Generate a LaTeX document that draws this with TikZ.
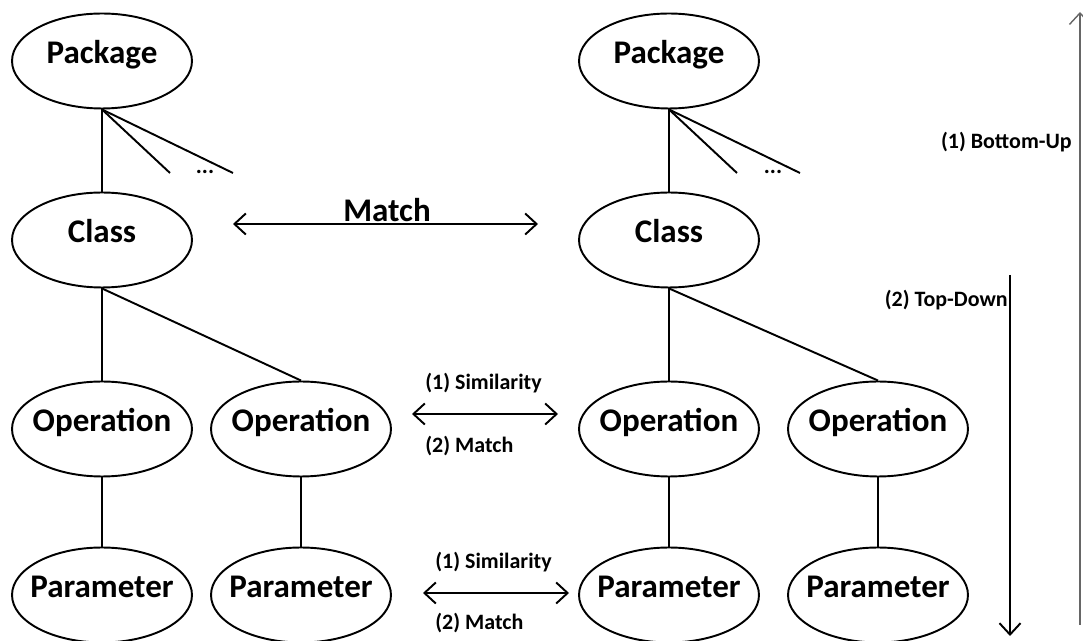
\documentclass[tikz,border=0pt]{standalone}
\usepackage{fontspec}
\setmainfont{Carlito}
\usetikzlibrary{shapes.geometric,arrows.meta}
\newcommand{\elemtext}[1]{\smash{\makebox[0pt]{\raisebox{-0.05cm}{#1}}}}
\begin{document}
\begin{tikzpicture}[x=0.02cm,y=-0.02cm,
  elem/.style={draw, ellipse, line width=1.1pt, minimum width=3.6cm, minimum height=1.9cm,
               inner sep=0pt, font=\fontsize{18.8}{22}\selectfont\bfseries},
  link/.style={line width=1.1pt},
  lbl/.style={inner sep=0pt, font=\fontsize{12.5}{14}\selectfont\bfseries},
  bigl/.style={inner sep=0pt, font=\fontsize{18.8}{22}\selectfont\bfseries},
  dots/.style={inner sep=0pt, font=\fontsize{13}{14}\selectfont\bfseries},
  biarrow/.style={line width=1.1pt, {Straight Barb[length=6.5pt,width=12pt]}-{Straight Barb[length=6.5pt,width=12pt]}},
  onearrow/.style={line width=1.1pt, -{Straight Barb[length=6.5pt,width=12pt]}}]
\useasboundingbox (0,0) rectangle (1083,641);

% left tree
\node[elem] (pL) at (102,61) {\elemtext{Package}};
\node[elem] (cL) at (102,240) {\elemtext{Class}};
\node[elem] (oL1) at (102,429) {\elemtext{Operation}};
\node[elem] (oL2) at (301,429) {\elemtext{Operation}};
\node[elem] (aL1) at (102,595) {\elemtext{Parameter}};
\node[elem] (aL2) at (301,595) {\elemtext{Parameter}};
\coordinate (pLa) at (170,173);
\coordinate (pLb) at (233,173);
\node[dots] (dL) at (205,172) {...};

% right tree
\node[elem] (pR) at (669,61) {\elemtext{Package}};
\node[elem] (cR) at (669,240) {\elemtext{Class}};
\node[elem] (oR1) at (669,429) {\elemtext{Operation}};
\node[elem] (oR2) at (878,429) {\elemtext{Operation}};
\node[elem] (aR1) at (669,595) {\elemtext{Parameter}};
\node[elem] (aR2) at (878,595) {\elemtext{Parameter}};
\coordinate (pRa) at (737,173);
\coordinate (pRb) at (800,173);
\node[dots] (dR) at (773,172) {...};

% tree edges
\foreach \t in {L,R}{
  \draw[link] (p\t.south) -- (c\t.north);
  \draw[link] (p\t.south) -- (p\t a);
  \draw[link] (p\t.south) -- (p\t b);
  \draw[link] (c\t.south) -- (o\t1.north);
  \draw[link] (c\t.south) -- (o\t2.north);
  \draw[link] (o\t1.south) -- (a\t1.north);
  \draw[link] (o\t2.south) -- (a\t2.north);
}

% matching arrows
\coordinate (m1a) at (233,224);
\coordinate (m1b) at (538,224);
\draw[biarrow] (m1a) -- (m1b);
\node[bigl, anchor=base] (mt) at (387,222) {Match};

\coordinate (m2a) at (412,414);
\coordinate (m2b) at (558,414);
\draw[biarrow] (m2a) -- (m2b);
\node[lbl, anchor=west] (s2) at (425,383) {(1) Similarity};
\node[lbl, anchor=west] (t2) at (425,446) {(2) Match};

\coordinate (m3a) at (423,593);
\coordinate (m3b) at (569,593);
\draw[biarrow] (m3a) -- (m3b);
\node[lbl, anchor=west] (s3) at (435,562) {(1) Similarity};
\node[lbl, anchor=west] (t3) at (435,623) {(2) Match};

% direction arrows
\coordinate (upA) at (1080,625);
\coordinate (upB) at (1080,12);
\draw[onearrow, line width=0.8pt, black!60] (upA) -- (upB);
\node[lbl, anchor=east] (bu) at (1072,142) {(1) Bottom-Up};

\coordinate (dnA) at (1010,275);
\coordinate (dnB) at (1010,636);
\draw[onearrow] (dnA) -- (dnB);
\node[lbl, anchor=east] (td) at (1008,300) {(2) Top-Down};
\end{tikzpicture}
\end{document}
